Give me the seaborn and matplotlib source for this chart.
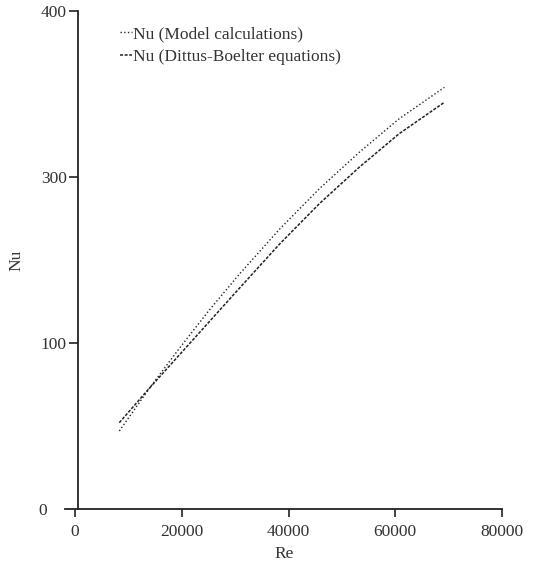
import numpy as np
import pandas as pd
import matplotlib
matplotlib.use('Agg')
import matplotlib.pyplot as plt
import seaborn as sns
from matplotlib.ticker import FixedLocator

# Valores (Re x Nu)
re_modelo = [8300, 14000, 19600, 25200, 30800, 38300, 45800, 53300, 60700, 69200]
nu_modelo = [47, 73, 97, 140, 183, 237, 286, 315, 335, 354]

re_dittus = [8300, 14000, 19600, 25200, 30800, 38300, 45800, 53300, 60700, 69200]
nu_dittus = [52, 73, 93, 126, 166, 219, 268, 306, 326, 345]

# Rotulos dos eixos (o eixo y do original pula o 200)
y_ticks = [0, 100, 300, 400]
x_ticks = [0, 20000, 40000, 60000, 80000]

sns.set_theme(style='ticks')
plt.rcParams['font.family'] = ['Liberation Serif', 'DejaVu Serif']

df_modelo = pd.DataFrame({'Re': re_modelo, 'Nu': nu_modelo})
df_dittus = pd.DataFrame({'Re': re_dittus, 'Nu': nu_dittus})

fig = plt.figure(figsize=(5.45, 5.67), dpi=100)
ax = fig.add_axes([65.4 / 545, 58 / 567, 436.6 / 545, 498 / 567])

cor = '#222222'
sns.lineplot(data=df_modelo, x='Re', y='Nu', ax=ax, color=cor, linewidth=1.0,
             linestyle=':', label='Nu (Model calculations)')
sns.lineplot(data=df_dittus, x='Re', y='Nu', ax=ax, color=cor, linewidth=1.1,
             linestyle=(0, (2, 1)), label='Nu (Dittus-Boelter equations)')

# escala por partes: os ticks ficam igualmente espacados
posicoes = [0, 1, 2, 3]
def ida(v):
    return np.interp(v, y_ticks, posicoes)
def volta(v):
    return np.interp(v, posicoes, y_ticks)
ax.set_yscale('function', functions=(ida, volta))

ax.set_xlim(-1800, 80000)
ax.set_ylim(0, 400)
ax.xaxis.set_major_locator(FixedLocator(x_ticks))
ax.yaxis.set_major_locator(FixedLocator(y_ticks))
ax.set_xticklabels([str(v) for v in x_ticks])
ax.set_yticklabels([str(v) for v in y_ticks])

for lado in ['top', 'right']:
    ax.spines[lado].set_visible(False)
ax.spines['left'].set_position(('axes', 12.3 / 436.6))
for lado in ['left', 'bottom']:
    ax.spines[lado].set_linewidth(1.3)
    ax.spines[lado].set_color('#222222')

ax.tick_params(axis='both', direction='out', length=6.3, width=1.2,
               labelsize=12.5, color='#222222', labelcolor='#333333', pad=1.5)
ax.tick_params(axis='x', length=6, pad=5)

# o zero do eixo y nao tem risco
t0 = ax.yaxis.get_major_ticks()[0]
t0.tick1line.set_visible(False)
t0.set_pad(16)

ax.set_xlabel('Re', fontsize=12.5, color='#333333', labelpad=4)
ax.set_ylabel('Nu', fontsize=12.5, color='#333333', labelpad=10)

ax.legend(loc='upper left', bbox_to_anchor=(120 / 545, 1 - 26 / 567),
          bbox_transform=fig.transFigure, frameon=False, fontsize=12.5,
          handlelength=0.7, handletextpad=0.05, labelspacing=0.4,
          borderpad=0, borderaxespad=0, labelcolor='#333333')

plt.savefig('out.png', dpi=100)
